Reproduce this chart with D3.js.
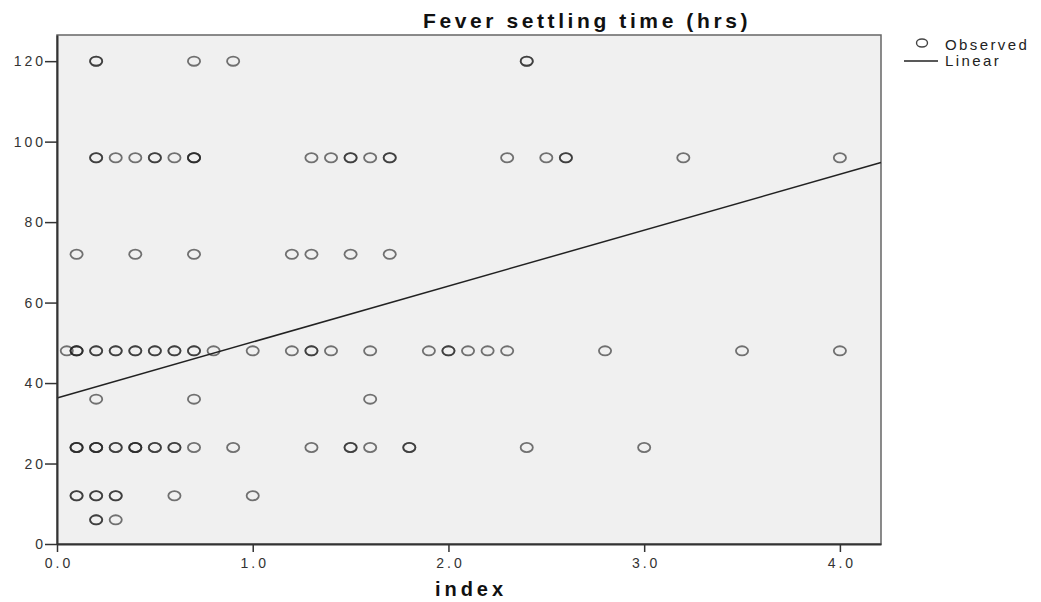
<!DOCTYPE html>
<html>
<head>
<meta charset="utf-8">
<script src="https://cdn.jsdelivr.net/npm/d3@7"></script>
<style>
  body { margin: 0; background: #fff; }
  text { font-family: Arial, "Liberation Sans", sans-serif; }
</style>
</head>
<body>
<div id="app"></div>
<script>
// observed points: index value, hours, and how many cases sit on that spot
const obsIndex = [
  0.2, 0.7, 0.9, 2.4,
  0.2, 0.3, 0.4, 0.5, 0.6, 0.7, 1.3, 1.4, 1.5, 1.6, 1.7, 2.3, 2.5, 2.6, 3.2, 4.0,
  0.1, 0.4, 0.7, 1.2, 1.3, 1.5, 1.7,
  0.05, 0.1, 0.2, 0.3, 0.4, 0.5, 0.6, 0.7, 0.8, 1.0, 1.2, 1.3, 1.4, 1.6, 1.9, 2.0, 2.1, 2.2, 2.3, 2.8, 3.5, 4.0,
  0.2, 0.7, 1.6,
  0.1, 0.2, 0.3, 0.4, 0.5, 0.6, 0.7, 0.9, 1.3, 1.5, 1.6, 1.8, 2.4, 3.0,
  0.1, 0.2, 0.3, 0.6, 1.0,
  0.2, 0.3
]
const obsHours = [
  120, 120, 120, 120,
  96, 96, 96, 96, 96, 96, 96, 96, 96, 96, 96, 96, 96, 96, 96, 96,
  72, 72, 72, 72, 72, 72, 72,
  48, 48, 48, 48, 48, 48, 48, 48, 48, 48, 48, 48, 48, 48, 48, 48, 48, 48, 48, 48, 48, 48,
  36, 36, 36,
  24, 24, 24, 24, 24, 24, 24, 24, 24, 24, 24, 24, 24, 24,
  12, 12, 12, 12, 12,
  6, 6
]
const obsCount = [
  2, 1, 1, 2,
  2, 1, 1, 2, 1, 3, 1, 1, 2, 1, 2, 1, 1, 2, 1, 1,
  1, 1, 1, 1, 1, 1, 1,
  1, 3, 2, 2, 2, 2, 2, 2, 1, 1, 1, 2, 1, 1, 1, 2, 1, 1, 1, 1, 1, 1,
  1, 1, 1,
  3, 3, 2, 3, 2, 2, 1, 1, 1, 2, 1, 2, 1, 1,
  2, 2, 2, 1, 1,
  2, 1
]

// linear fit
const fitIntercept = 36.3
const fitSlope = 13.9

const yTicks = [0, 20, 40, 60, 80, 100, 120]
const xTicks = [0, 1, 2, 3, 4]
const chartTitle = 'Fever settling time (hrs)'
const xTitle = 'index'
const legendLabels = ['Observed', 'Linear']

const width = 1041
const height = 602
const margin = {left: 57, right: 160, top: 35, bottom: 58}

const svg = d3.select('#app').append('svg')
    .attr('width', width)
    .attr('height', height)

const xScale = d3.scaleLinear().domain([0, 4.21]).range([margin.left, width - margin.right])
const yScale = d3.scaleLinear().domain([0, 126.5]).range([height - margin.bottom, margin.top])

// plot background + frame
svg.append('rect')
    .attr('x', xScale(0))
    .attr('y', yScale(126.5))
    .attr('width', xScale(4.21) - xScale(0))
    .attr('height', yScale(0) - yScale(126.5))
    .attr('fill', '#f0f0f0')
    .attr('stroke', '#666')
    .attr('stroke-width', 1.5)

// points, repeated where cases overlap so they print darker
const points = []
obsIndex.forEach((v, i) => {
    for (let k = 0; k < obsCount[i]; k++) points.push({index: v, hours: obsHours[i]})
})

svg.append('g').selectAll('ellipse')
    .data(points)
    .enter().append('ellipse')
    .attr('cx', d => xScale(d.index))
    .attr('cy', d => yScale(d.hours))
    .attr('rx', 6.1)
    .attr('ry', 4.6)
    .attr('fill', 'none')
    .attr('stroke', '#222')
    .attr('stroke-opacity', 0.62)
    .attr('stroke-width', 1.8)

// fit line
const line = d3.line()
    .x(d => xScale(d))
    .y(d => yScale(fitIntercept + fitSlope * d))
svg.append('path')
    .attr('d', line([0, 4.21]))
    .attr('fill', 'none')
    .attr('stroke', '#222')
    .attr('stroke-width', 1.5)

// axes
const yAxis = svg.append('g')
    .attr('transform', `translate(${margin.left},0)`)
    .call(d3.axisLeft(yScale).tickValues(yTicks).tickSize(12).tickSizeOuter(0).tickPadding(-1))
const xAxis = svg.append('g')
    .attr('transform', `translate(0,${height - margin.bottom})`)
    .call(d3.axisBottom(xScale).tickValues(xTicks).tickSize(8).tickSizeOuter(0).tickPadding(6).tickFormat(d3.format('.1f')))

for (const ax of [yAxis, xAxis]) {
    ax.select('.domain').attr('stroke', '#333').attr('stroke-width', 2)
    ax.selectAll('.tick line').attr('stroke', '#333').attr('stroke-width', 1.5)
    ax.selectAll('.tick text')
        .attr('fill', '#333')
        .style('font-size', '14px')
        .style('letter-spacing', '3px')
}
xAxis.selectAll('.tick text').attr('dx', '1.5px')

// titles
svg.append('text')
    .text(chartTitle)
    .attr('x', 587)
    .attr('y', 28)
    .attr('text-anchor', 'middle')
    .style('font-size', '21px')
    .style('font-weight', 'bold')
    .style('letter-spacing', '3.6px')
    .attr('fill', '#111')

svg.append('text')
    .text(xTitle)
    .attr('x', 471)
    .attr('y', 596)
    .attr('text-anchor', 'middle')
    .style('font-size', '20px')
    .style('font-weight', 'bold')
    .style('letter-spacing', '4px')
    .attr('fill', '#111')

// legend
const legend = svg.append('g')
legend.append('ellipse')
    .attr('cx', 922).attr('cy', 43)
    .attr('rx', 5.5).attr('ry', 4)
    .attr('fill', 'none').attr('stroke', '#444').attr('stroke-width', 1.4)
legend.append('line')
    .attr('x1', 904).attr('x2', 938)
    .attr('y1', 61).attr('y2', 61)
    .attr('stroke', '#222').attr('stroke-width', 1.3)
legend.selectAll('text.legend')
    .data(legendLabels)
    .enter().append('text')
    .attr('class', 'legend')
    .text(d => d)
    .attr('x', 945)
    .attr('y', (d, i) => 50 + i * 16)
    .style('font-size', '15px')
    .style('letter-spacing', '2.4px')
    .attr('fill', '#222')
</script>
</body>
</html>
